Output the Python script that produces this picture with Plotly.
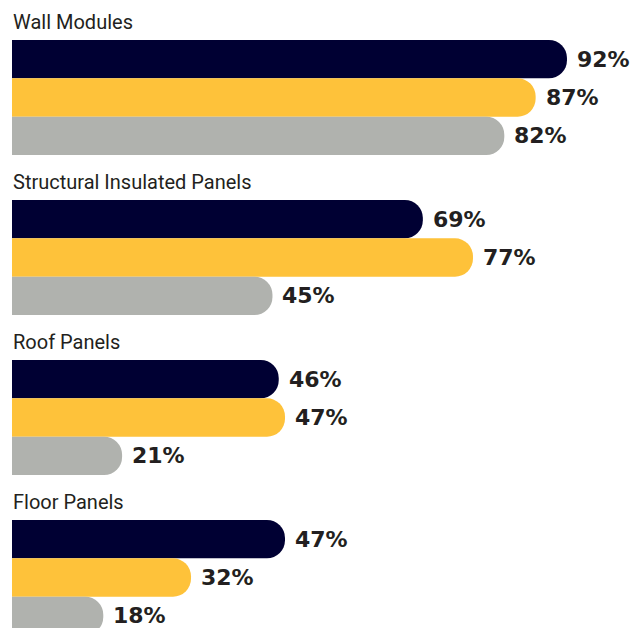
import plotly.graph_objects as go

categories = ["Wall Modules", "Structural Insulated Panels", "Roof Panels", "Floor Panels"]
series_names = ["Series A", "Series B", "Series C"]
series_a = [92, 69, 46, 47]
series_b = [87, 77, 47, 32]
series_c = [82, 45, 21, 18]
series_values = [series_a, series_b, series_c]
colors = ["#000033", "#FEC23A", "#B0B2AE"]
text_color = "#231F20"

PAGE_OFF = 8  # default body margin of the html page
W, H = 638 - PAGE_OFF, 628 - PAGE_OFF
BAR_PX = 115 / 3.0
GROUP_STEP = 160 / BAR_PX
first_center_px = 40 - PAGE_OFF + BAR_PX / 2
y_top = -first_center_px / BAR_PX
y_bot = (H - first_center_px) / BAR_PX

px_per_pct = 6.266
zero_px = -9.5 - PAGE_OFF
left_px = 12 - PAGE_OFF
x_lo = (left_px - zero_px) / px_per_pct
x_hi = (W - zero_px) / px_per_pct

fig = go.Figure()
annotations = []
for s, (name, vals, col) in enumerate(zip(series_names, series_values, colors)):
    ys = [g * GROUP_STEP + s for g in range(len(categories))]
    fig.add_trace(go.Bar(
        x=vals, y=ys, orientation="h", width=1.0,
        marker=dict(color=col, line=dict(width=0)),
        name=name, showlegend=False, hoverinfo="skip",
    ))
    for v, y in zip(vals, ys):
        annotations.append(dict(
            x=v, y=y, xref="x", yref="y", text=f"{v}%", showarrow=False,
            xanchor="left", yanchor="middle", xshift=8, yshift=0,
            font=dict(family="DejaVu Sans", size=22, color=text_color, weight="bold"),
        ))

for g, cat in enumerate(categories):
    annotations.append(dict(
        x=0, y=g * GROUP_STEP - 0.5, xref="paper", yref="y", text=cat,
        showarrow=False, xanchor="left", yanchor="bottom", xshift=-1, yshift=4,
        font=dict(family="Roboto", size=20, color=text_color),
    ))

fig.update_layout(
    width=W, height=H,
    margin=dict(l=left_px, r=0, t=0, b=0),
    paper_bgcolor="white", plot_bgcolor="white",
    barmode="overlay", barcornerradius=18,
    xaxis=dict(range=[x_lo, x_hi], visible=False, fixedrange=True),
    yaxis=dict(range=[y_bot, y_top], visible=False, fixedrange=True),
    annotations=annotations,
    hovermode=False,
)
fig.write_html("out.html", config={"displayModeBar": False})
